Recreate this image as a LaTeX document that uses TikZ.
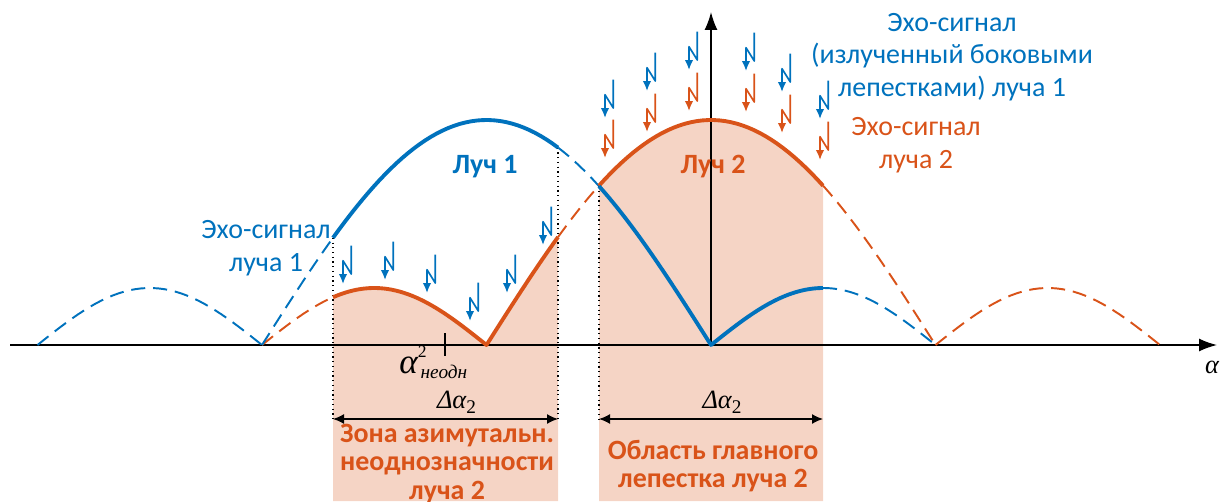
\documentclass[tikz,border=0pt]{standalone}
\usepackage{fontspec}
\setmainfont{Carlito}
\newfontfamily\tmsfont{Liberation Serif}
\usetikzlibrary{arrows.meta}
\definecolor{beamblue}{HTML}{0072BD}
\definecolor{beamorange}{HTML}{D95319}
\definecolor{zonefill}{HTML}{F5D4C5}

\begin{document}
\begin{tikzpicture}[x=0.02cm, y=0.02cm, line join=round,
  declare function={mainA(\t)=225*sin((\t-262)/449*180);
                    sideA(\t)=57*abs(sin((\t-262)/224.5*180));
                    mainB(\t)=225*sin((\t-486.5)/449*180);
                    sideB(\t)=57*abs(sin((\t-486.5)/224.5*180));},
  lobe/.style={line width=2.2pt, samples=40},
  sidelobe/.style={line width=1.1pt, dash pattern=on 8pt off 4.5pt, samples=40},
  axisline/.style={line width=0.9pt, -{Latex[length=0.36cm,width=0.26cm]}},
  guide/.style={line width=0.7pt, dotted},
  dimarrow/.style={line width=0.8pt, {Latex[length=0.22cm,width=0.2cm]}-{Latex[length=0.22cm,width=0.2cm]}},
  bolt/.style={line width=0.95pt, -{Latex[length=0.2cm,width=0.17cm]}},
  echo/.style={font=\fontsize{15.9}{18.6}\selectfont, align=center, inner sep=0pt},
  zonetext/.style={font=\fontsize{15.9}{16}\selectfont\bfseries, text=beamorange, align=center, inner sep=0pt},
  beamname/.style={font=\fontsize{15.9}{18}\selectfont\bfseries, inner sep=0pt},
  serifit/.style={font=\tmsfont\itshape\fontsize{#1}{#1}\selectfont, inner sep=0pt},
  ]
  \useasboundingbox (0,-156) rectangle (1227,345);

  \fill[zonefill] (333,-156) -- plot[domain=333:486.5] (\x,{sideB(\x)}) -- plot[domain=486.5:558] (\x,{mainB(\x)}) -- (558,-156) -- cycle;
  \fill[zonefill] (599,-156) -- plot[domain=599:823] (\x,{mainB(\x)}) -- (823,-156) -- cycle;

  \coordinate (xs) at (10,0);
  \coordinate (xe) at (1217,0);
  \coordinate (ys) at (711,0);
  \coordinate (ye) at (711,333);
  \draw[axisline] (xs) -- (xe);
  \draw[axisline] (ys) -- (ye);
  \node[serifit=15] (alpha) at (1212,-22) {α};

  \coordinate (z1l) at (333,-74);
  \coordinate (z1r) at (558,-74);
  \coordinate (z2l) at (599,-74);
  \coordinate (z2r) at (823,-74);
  \coordinate (t1) at (333,{mainA(333)});
  \coordinate (t2) at (558,{mainA(558)});
  \coordinate (t3) at (599,{mainA(599)});
  \draw[guide] (t1) -- (z1l);
  \draw[guide] (t2) -- (z1r);
  \draw[guide] (t3) -- (z2l);

  \draw[dimarrow] (z1l) -- node[serifit=15, above=3pt, xshift=0.22cm] (dz1) {Δα\raisebox{-0.35ex}{\upshape\fontsize{11}{11}\selectfont 2}} (z1r);
  \draw[dimarrow] (z2l) -- node[serifit=15, above=3pt, xshift=0.22cm] (dz2) {Δα\raisebox{-0.35ex}{\upshape\fontsize{11}{11}\selectfont 2}} (z2r);

  \draw[line width=0.9pt] (445,12) -- (445,-11);
  \node[serifit=20, anchor=base west] (amb) at (399,-28)
    {α\rlap{\raisebox{0.95ex}{\upshape\fontsize{10}{10}\selectfont 2}}\kern0.08em\raisebox{-0.35ex}{\fontsize{11}{11}\selectfont неодн}};

  \draw[sidelobe, beamorange] plot[domain=262:333] (\x,{sideB(\x)});
  \draw[sidelobe, beamorange] plot[domain=558:599] (\x,{mainB(\x)});
  \draw[sidelobe, beamorange] plot[domain=823:935.5] (\x,{mainB(\x)});
  \draw[sidelobe, beamorange] plot[domain=935.5:1160] (\x,{sideB(\x)});
  \draw[sidelobe, beamblue] plot[domain=37.5:262] (\x,{sideA(\x)});
  \draw[sidelobe, beamblue] plot[domain=262:333] (\x,{mainA(\x)});
  \draw[sidelobe, beamblue] plot[domain=558:599] (\x,{mainA(\x)});
  \draw[sidelobe, beamblue] plot[domain=823:935.5] (\x,{sideA(\x)});

  \draw[lobe, beamorange] plot[domain=333:486.5] (\x,{sideB(\x)}) -- plot[domain=486.5:558] (\x,{mainB(\x)});
  \draw[lobe, beamorange] plot[domain=599:823] (\x,{mainB(\x)});
  \draw[lobe, beamblue] plot[domain=333:558] (\x,{mainA(\x)});
  \draw[lobe, beamblue] plot[domain=599:711] (\x,{mainA(\x)}) -- plot[domain=711:823] (\x,{sideA(\x)});

  \foreach \bx/\by in {343/61, 385/65, 427/52, 470/24, 507/52, 543/100,
                       605/227, 647/254, 689/275, 746/274, 782/253, 820/226}
    \draw[bolt, beamblue] (\bx+8.3,\by+38.3) -- ++(0,-28.3) -- ++(-8.3,13.3) -- ++(0,-23.3);
  \foreach \bx/\by in {605/187, 647/213, 689/234, 746/233, 782/212, 820/185}
    \draw[bolt, beamorange] (\bx+8.3,\by+38.3) -- ++(0,-28.3) -- ++(-8.3,13.3) -- ++(0,-23.3);

  \node[beamname, text=beamblue] (beam1) at (485,178) {Луч 1};
  \node[beamname, text=beamorange] (beam2) at (713,178) {Луч 2};
  \node[echo, text=beamblue] (echo1) at (266,97) {Эхо-сигнал\\луча 1};
  \node[echo, text=beamblue] (echoside) at (952,288) {Эхо-сигнал\\(излученный боковыми\\лепестками) луча 1};
  \node[echo, text=beamorange] (echo2) at (916,200) {Эхо-сигнал\\луча 2};
  \node[zonetext] (zone1) at (447,-119) {Зона азимутальн.\\неоднозначности\\луча 2};
  \node[zonetext] (zone2) at (713,-121) {Область главного\\лепестка луча 2};
\end{tikzpicture}
\end{document}
